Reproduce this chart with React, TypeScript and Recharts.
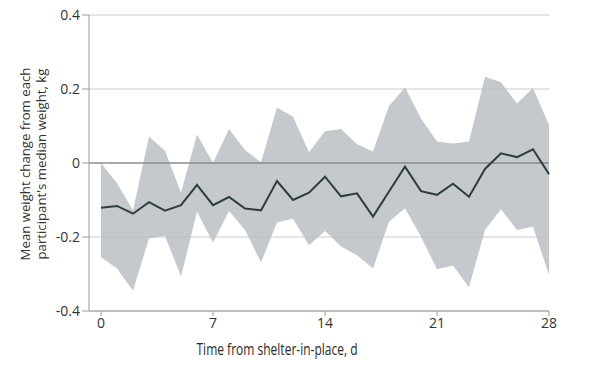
import React from "react";
import {
  ComposedChart, Area, Line, XAxis, YAxis, CartesianGrid, ReferenceLine, Label,
} from "recharts";

const days = [0, 1, 2, 3, 4, 5, 6, 7, 8, 9, 10, 11, 12, 13, 14, 15, 16, 17, 18, 19, 20, 21, 22, 23, 24, 25, 26, 27, 28];

const meanChange = [
  -0.121, -0.116, -0.137, -0.106, -0.129, -0.114, -0.059, -0.114, -0.092, -0.123,
  -0.128, -0.049, -0.1, -0.08, -0.037, -0.09, -0.082, -0.145, -0.077, -0.01,
  -0.076, -0.086, -0.056, -0.091, -0.016, 0.026, 0.016, 0.037, -0.03,
];

const upperCI = [
  0.0, -0.055, -0.128, 0.071, 0.033, -0.08, 0.077, 0.0, 0.092, 0.035,
  0.002, 0.15, 0.125, 0.029, 0.086, 0.092, 0.051, 0.031, 0.154, 0.204,
  0.12, 0.058, 0.053, 0.058, 0.233, 0.218, 0.161, 0.203, 0.103,
];

const lowerCI = [
  -0.255, -0.285, -0.345, -0.204, -0.197, -0.307, -0.132, -0.215, -0.13, -0.181,
  -0.269, -0.161, -0.151, -0.222, -0.184, -0.226, -0.249, -0.285, -0.159, -0.122,
  -0.199, -0.287, -0.277, -0.336, -0.181, -0.125, -0.181, -0.172, -0.303,
];

const xTicks = [0, 7, 14, 21, 28];
const yTicks = [-0.4, -0.2, 0, 0.2, 0.4];

const chartData = days.map((d, i) => ({
  day: d,
  mean: meanChange[i],
  band: [lowerCI[i], upperCI[i]],
}));

const font = "'Open Sans', 'Noto Sans', sans-serif";

function YTitle() {
  return (
    <text
      transform="translate(33,164) rotate(-90)"
      textAnchor="middle"
      fontFamily={font}
      fontSize={13.2}
      fill="#333"
    >
      <tspan x={0} dy={-3}>Mean weight change from each</tspan>
      <tspan x={0} dy={16}>participant's median weight, kg</tspan>
    </text>
  );
}

function XTitle() {
  // reference title is a condensed face, so squeeze it to the same width
  return (
    <text
      x={277}
      y={355}
      textAnchor="middle"
      fontFamily={font}
      fontSize={15.5}
      fill="#2a2a2a"
      textLength={161}
      lengthAdjust="spacingAndGlyphs"
    >
      Time from shelter-in-place, d
    </text>
  );
}

export default function App() {
  return (
    <div style={{ position: "absolute", left: 0, top: 0, background: "#fff" }}>
      <ComposedChart
        width={600}
        height={383}
        data={chartData}
        margin={{ top: 15, right: 51, bottom: 0, left: 0 }}
      >
        <CartesianGrid horizontal vertical={false} stroke="#cccccc" />
        <XAxis
          dataKey="day"
          type="number"
          domain={[0, 28]}
          ticks={xTicks}
          padding={{ left: 12, right: 0 }}
          height={72}
          axisLine={{ stroke: "#999" }}
          tickLine={{ stroke: "#999" }}
          tickSize={5}
          tick={{ fill: "#333", fontSize: 14, fontFamily: font }}
        >
          <Label content={<XTitle />} />
        </XAxis>
        <YAxis
          type="number"
          domain={[-0.4, 0.4]}
          ticks={yTicks}
          width={89}
          axisLine={{ stroke: "#999" }}
          tickLine={{ stroke: "#999" }}
          tickSize={7}
          tick={{ fill: "#333", fontSize: 14, fontFamily: font }}
        >
          <Label content={<YTitle />} />
        </YAxis>
        <Area
          dataKey="band"
          type="linear"
          stroke="none"
          fill="#b6bcc0"
          fillOpacity={0.8}
          isAnimationActive={false}
        />
        <ReferenceLine y={0} stroke="#6f6f6f" strokeWidth={1.2} />
        <Line
          dataKey="mean"
          type="linear"
          stroke="#2e3d40"
          strokeWidth={2}
          dot={false}
          isAnimationActive={false}
        />
      </ComposedChart>
    </div>
  );
}
